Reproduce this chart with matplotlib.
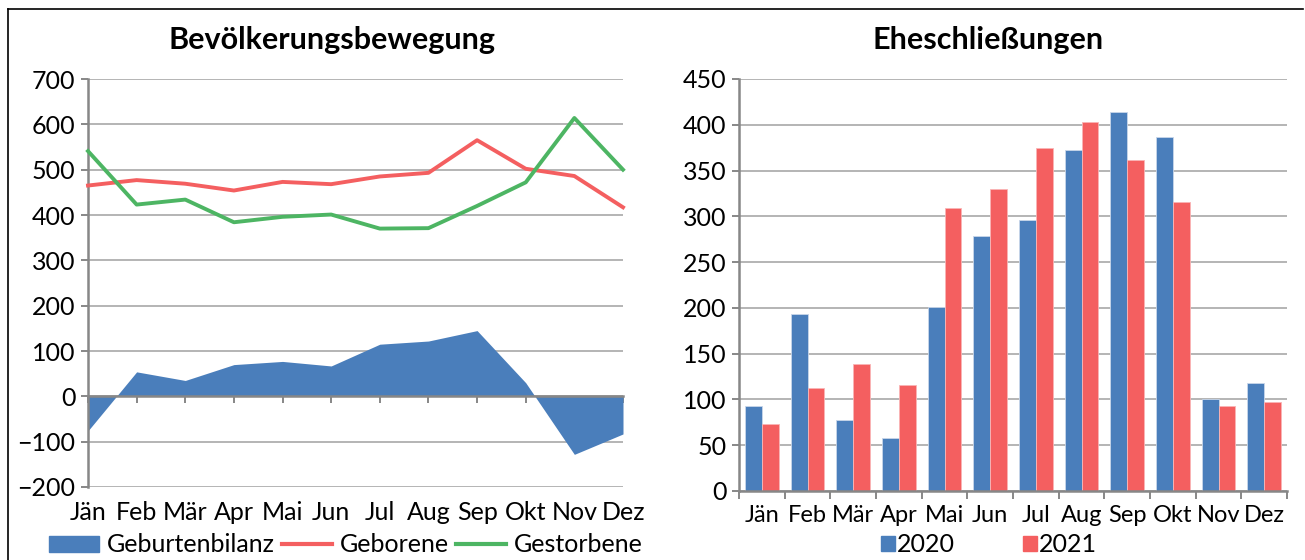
import matplotlib
matplotlib.use("Agg")
import matplotlib.pyplot as plt
from matplotlib.lines import Line2D
from matplotlib.patches import Patch
import numpy as np

plt.rcParams['font.family'] = ['Lato', 'DejaVu Sans']

months = ["Jän", "Feb", "Mär", "Apr", "Mai", "Jun", "Jul", "Aug", "Sep", "Okt", "Nov", "Dez"]

# Bevölkerungsbewegung
geborene = [465, 477, 469, 454, 473, 468, 485, 493, 565, 502, 486, 417]
gestorbene = [541, 423, 434, 384, 396, 401, 370, 371, 420, 472, 614, 500]
bilanz = [-76, 54, 35, 70, 77, 67, 115, 122, 145, 30, -128, -83]

# Eheschließungen
ehe_2020 = [93, 193, 78, 58, 201, 279, 296, 372, 414, 387, 100, 118]
ehe_2021 = [73, 113, 139, 116, 309, 330, 375, 403, 362, 316, 93, 97]

BLUE = "#4A7EBB"
RED = "#F45F60"
GREEN = "#4DB563"
GRID = "#B4B4B4"
SPINE = "#878787"
FS = 18

W, H = 1305, 560
fig = plt.figure(figsize=(W / 100, H / 100), dpi=100)


def px_axes(x0, y0, x1, y1):
    return fig.add_axes([x0 / W, 1 - y1 / H, (x1 - x0) / W, (y1 - y0) / H])


def style(ax):
    ax.set_axisbelow(True)
    ax.grid(axis="y", color=GRID, lw=1.4)
    for s in ["top", "right"]:
        ax.spines[s].set_visible(False)
    ax.spines["left"].set_color(SPINE)
    ax.spines["left"].set_linewidth(1.8)
    ax.spines["bottom"].set_color(SPINE)
    ax.spines["bottom"].set_linewidth(1.8)
    ax.tick_params(axis="y", length=5, width=1.4, color=SPINE, labelsize=FS, pad=4)


# left chart
ax1 = px_axes(88, 79, 623, 487)
x = np.arange(len(months))
ax1.fill_between(x, 0, bilanz, color=BLUE, lw=0, zorder=1)
ax1.plot(x, geborene, color=RED, lw=2.8, zorder=3, clip_on=False)
ax1.plot(x, gestorbene, color=GREEN, lw=2.8, zorder=3, clip_on=False)
ax1.set_xlim(0, 11)
ax1.set_ylim(-200, 700)
ax1.set_yticks(range(-200, 701, 100))
style(ax1)
ax1.spines["bottom"].set_position(("data", 0))
ax1.spines["bottom"].set_zorder(4)
ax1.set_xticks(x)
ax1.tick_params(axis="x", length=5, width=1.4, color=SPINE, labelbottom=False)
sec = ax1.secondary_xaxis("bottom")
sec.set_xticks(x, months)
sec.tick_params(length=0, labelsize=FS, pad=10)
sec.spines["bottom"].set_visible(False)

fig.text(332 / W, 1 - 40 / H, "Bevölkerungsbewegung", ha="center", va="center",
         fontsize=22, fontweight="bold")

h1 = [Patch(color=BLUE), Line2D([], [], color=RED, lw=3), Line2D([], [], color=GREEN, lw=3)]
fig.legend(h1, ["Geburtenbilanz", "Geborene", "Gestorbene"], ncol=3, frameon=False,
           loc="center", bbox_to_anchor=(346 / W, 1 - 545 / H), fontsize=FS,
           handlelength=2.0, handleheight=0.6, handletextpad=0.3, columnspacing=0.3,
           borderpad=0, borderaxespad=0)

# right chart
ax2 = px_axes(739, 79, 1287, 491)
bw = 0.365
ax2.bar(x - bw / 2, ehe_2020, bw, color=BLUE, edgecolor="#C8D6EA", lw=0.6, zorder=2)
ax2.bar(x + bw / 2, ehe_2021, bw, color=RED, edgecolor="#F9B5B5", lw=0.6, zorder=2)
ax2.set_xlim(-0.5, 11.5)
ax2.set_ylim(0, 450)
ax2.set_yticks(range(0, 451, 50))
style(ax2)
ax2.set_xticks(x, months)
ax2.set_xticks(np.arange(-0.5, 12, 1), minor=True)
ax2.tick_params(axis="x", which="major", length=0, labelsize=17, pad=10)
ax2.tick_params(axis="x", which="minor", length=6, width=1.4, color=SPINE)

fig.text(988 / W, 1 - 40 / H, "Eheschließungen", ha="center", va="center",
         fontsize=22, fontweight="bold")

h2 = [Patch(color=BLUE), Patch(color=RED)]
fig.legend(h2, ["2020", "2021"], ncol=2, frameon=False,
           loc="center", bbox_to_anchor=(989 / W, 1 - 545 / H), fontsize=FS,
           handlelength=0.55, handleheight=0.55, handletextpad=0.1, columnspacing=2.7,
           borderpad=0, borderaxespad=0)

# outer frame (top and left edges)
fig.add_artist(Line2D([8 / W, 1 - 2 / W], [1 - 9 / H, 1 - 9 / H], color="black", lw=1.2))
fig.add_artist(Line2D([8 / W, 8 / W], [0, 1 - 9 / H], color="black", lw=1.2))

fig.savefig("out.png", dpi=100)
